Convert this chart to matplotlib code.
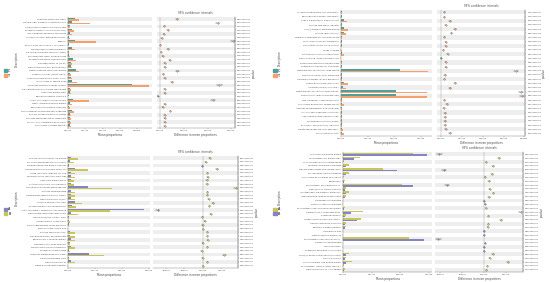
import numpy as np
import matplotlib.pyplot as plt
from matplotlib.patches import Patch
from matplotlib.ticker import FuncFormatter

# ---- panel A (top left) ----
a_labels = ["Glutamine synthetase, type I", "Multiple sugar transport, substrate-binding",
            "Cobalt/nickel transport system permease", "Phosphate transport ATP-binding protein",
            "ABC transporter permease, spermidine", "Cold shock protein, beta-ribbon domain",
            "Flagellin", "Excinuclease ABC subunit A, UvrA family", "Peptide/nickel transport permease",
            "DNA-binding response regulator, OmpR", "Two-component sensor histidine kinase",
            "Phosphate starvation-inducible PhoH", "Elongation factor Tu (EF-Tu)",
            "Ribosomal protein S12, bacterial type", "Methyl-accepting chemotaxis protein",
            "Chaperonin GroEL (HSP60 family)", "Outer membrane protein OmpA, porin",
            "ATP synthase F1 subunit alpha", "Polyketide synthase modules, related",
            "DNA-directed RNA polymerase subunit beta", "Heat shock protein HtpG",
            "Translation initiation factor IF-2", "Acetyl-CoA carboxylase transferase",
            "Signal recognition particle protein", "Transcription termination factor Rho",
            "Glyceraldehyde-3-phosphate dehydrogenase", "Enolase, phosphopyruvate hydratase",
            "Pyruvate dehydrogenase E1 component", "Succinyl-CoA synthetase alpha subunit",
            "Cytochrome c oxidase subunit I"]
a_grp1 = [0.40, 0.20, 0.08, 0.20, 0.10, 0.05, 0.40, 0.02, 0.20, 0.02, 0.05, 0.30, 0.15, 0.15, 0.45,
          0.10, 0.15, 0.25, 3.70, 0.08, 0.10, 0.02, 0.30, 0.10, 0.05, 0.20, 0.08, 0.10, 0.10, 0.10]
a_grp2 = [0.64, 1.26, 0.10, 0.34, 0.20, 0.08, 1.64, 0.03, 0.40, 0.03, 0.08, 0.45, 0.25, 0.20, 0.65,
          0.15, 0.20, 0.50, 4.70, 0.15, 0.15, 0.01, 1.20, 0.20, 0.10, 0.35, 0.15, 0.15, 0.15, 0.15]
a_diff = [0.69, 2.42, 0.17, 0.33, 0.14, 0.07, 3.08, 0.00, 0.33, 0.03, 0.10, 0.39, 0.18, 0.19, 0.72,
          0.13, 0.18, 0.49, 2.49, 0.19, 0.19, -0.11, 2.22, 0.19, 0.10, 0.43, 0.18, 0.19, 0.19, 0.19]
a_ci = [0.04, 0.08, 0.02, 0.03, 0.02, 0.02, 0.09, 0.01, 0.03, 0.01, 0.02, 0.03, 0.02, 0.02, 0.05,
        0.02, 0.02, 0.04, 0.10, 0.02, 0.02, 0.02, 0.08, 0.02, 0.02, 0.03, 0.02, 0.02, 0.02, 0.02]
a_p = [1.84e-03, 6.21e-04, 3.37e-02, 1.15e-02, 4.02e-02, 2.66e-02, 2.07e-04, 4.51e-02, 8.93e-03,
       3.90e-02, 2.48e-02, 7.16e-03, 1.92e-02, 2.35e-02, 9.87e-04, 3.11e-02, 1.74e-02, 5.62e-03,
       3.38e-04, 2.03e-02, 2.87e-02, 4.66e-02, 8.45e-04, 1.58e-02, 3.64e-02, 6.77e-03, 2.21e-02,
       2.59e-02, 1.36e-02, 2.93e-02]

# ---- panel B (top right) ----
b_labels = ["Uncharacterized protein, DUF1778 family", "Transcriptional regulator, LysR family",
            "Oligo-1,6-glucosidase, alpha-amylase", "Putative TetR-family regulator",
            "Iron(III) transport substrate-binding", "Putative lipoprotein YajI",
            "Membrane-associated zinc metalloprotease", "Lipid A biosynthesis acyltransferase",
            "Glycosyltransferase, group 1 family", "Phage integrase",
            "Putative holin-like toxin, hypothetical", "Small multidrug resistance protein SMR",
            "Sugar phosphate isomerase/epimerase", "Glutathione S-transferase, N-terminal",
            "Methylmalonyl-CoA mutase, large subunit", "RND efflux system, outer membrane",
            "Thioredoxin reductase, NADPH-dependent", "Glutamate synthase, large chain",
            "Aminotransferase class I and II", "Methylmalonyl-CoA mutase, small subunit",
            "Propionyl-CoA carboxylase beta chain", "MFS transporter, sugar porter family",
            "Cytochrome bd ubiquinol oxidase subunit", "Aldehyde dehydrogenase, NAD-dependent",
            "Acyl-CoA dehydrogenase, short-chain", "Alkyl hydroperoxide reductase AhpC",
            "Serine/threonine protein kinase", "Enoyl-[acyl-carrier-protein] reductase",
            "Malate dehydrogenase, NAD-dependent", "Pilus assembly protein"]
b_grp1 = [0.02, 0.02, 0.13, 0.02, 0.10, 0.10, 0.02, 0.03, 0.03, 0.01, 0.05, 0.01, 0.03, 0.03, 2.22,
          0.03, 0.02, 0.10, 0.08, 2.05, 2.05, 0.02, 0.05, 0.02, 0.03, 0.03, 0.03, 0.03, 0.03, 0.05]
b_grp2 = [0.03, 0.03, 0.23, 0.04, 0.28, 0.20, 0.03, 0.05, 0.05, 0.02, 0.10, 0.005, 0.05, 0.05, 3.27,
          0.05, 0.04, 0.28, 0.18, 3.23, 3.23, 0.03, 0.12, 0.03, 0.05, 0.05, 0.05, 0.05, 0.06, 0.12]
b_diff = [0.15, 0.15, 0.41, 0.20, 0.64, 0.48, 0.15, 0.20, 0.20, 0.10, 0.30, -0.02, 0.20, 0.20, 3.60,
          0.18, 0.15, 0.64, 0.42, 3.85, 3.89, 0.15, 0.27, 0.12, 0.18, 0.18, 0.18, 0.18, 0.21, 0.41]
b_ci = [0.03, 0.03, 0.04, 0.03, 0.05, 0.04, 0.03, 0.03, 0.03, 0.02, 0.03, 0.02, 0.03, 0.03, 0.10,
        0.03, 0.03, 0.05, 0.04, 0.10, 0.10, 0.03, 0.03, 0.03, 0.03, 0.03, 0.03, 0.03, 0.03, 0.04]
b_p = [3.12e-02, 2.76e-02, 6.48e-03, 1.93e-02, 2.14e-03, 4.85e-03, 3.47e-02, 1.66e-02, 1.71e-02,
       4.22e-02, 9.31e-03, 4.78e-02, 1.88e-02, 2.05e-02, 1.04e-04, 2.54e-02, 3.29e-02, 1.97e-03,
       5.73e-03, 7.62e-05, 6.95e-05, 2.98e-02, 1.27e-02, 3.81e-02, 2.43e-02, 2.37e-02, 2.62e-02,
       2.51e-02, 1.45e-02, 6.11e-03]

# ---- panel C (bottom left) ----
c_labels = ["Putative ABC transporter ATP-binding", "Succinate dehydrogenase Fe-S subunit",
            "Predicted membrane protein, DUF1097", "Carbohydrate-binding module, family 48",
            "Nitrite reductase, large subunit NirB", "Ferredoxin-NADP reductase, plant-type",
            "Heat shock protein Hsp20", "Cysteine desulfurase, SufS subfamily",
            "NAD-specific glutamate dehydrogenase", "Putative oxidoreductase",
            "Fructose-bisphosphate aldolase, class II", "Ribosomal protein L7/L12",
            "Universal stress protein UspA", "Phosphoenolpyruvate carboxykinase",
            "Acetyl-coenzyme A synthetase, AMP-forming", "Ribose-phosphate pyrophosphokinase",
            "Septum formation initiator, DivIC", "Histidine kinase, HAMP region",
            "Prolyl oligopeptidase, serine peptidase", "Biotin synthase, radical SAM",
            "Putative exported protein", "Zinc-binding alcohol dehydrogenase",
            "Transketolase, C-terminal domain", "Flavodoxin/nitric oxide synthase",
            "Peptidyl-prolyl cis-trans isomerase", "Phosphoglycerate mutase",
            "Glutamine amidotransferase, class I", "Catalase-peroxidase KatG",
            "Ribosomal protein S1", "Sigma-54 dependent regulator"]
c_grp1 = [0.10, 0.08, 0.03, 0.25, 0.12, 0.12, 0.10, 0.12, 0.75, 0.10, 0.10, 0.10, 0.25, 0.15, 2.84,
          0.10, 0.02, 0.02, 0.02, 0.01, 0.08, 0.08, 0.10, 0.05, 0.10, 0.03, 0.79, 0.02, 0.10, 0.01]
c_grp2 = [0.35, 0.20, 0.02, 0.75, 0.25, 0.25, 0.20, 0.20, 1.63, 0.25, 0.25, 0.25, 0.50, 0.30, 1.56,
          0.35, 0.03, 0.05, 0.03, 0.01, 0.25, 0.25, 0.25, 0.05, 0.25, 0.05, 1.34, 0.02, 0.25, 0.01]
c_diff = [0.36, 0.15, -0.04, 0.75, 0.24, 0.27, 0.22, 0.22, 1.76, 0.24, 0.24, 0.31, 0.53, 0.35, -2.45,
          0.42, -0.04, 0.09, -0.02, 0.00, 0.24, 0.24, 0.27, -0.02, 0.24, -0.07, 1.15, -0.02, 0.24, 0.00]
c_ci = [0.04, 0.03, 0.02, 0.06, 0.03, 0.03, 0.03, 0.03, 0.08, 0.03, 0.03, 0.03, 0.05, 0.04, 0.10,
        0.04, 0.02, 0.02, 0.02, 0.01, 0.03, 0.03, 0.03, 0.02, 0.03, 0.02, 0.07, 0.02, 0.03, 0.01]
c_p = [8.27e-03, 2.19e-02, 3.95e-02, 1.42e-03, 1.36e-02, 1.12e-02, 1.57e-02, 1.61e-02, 2.63e-04,
       1.39e-02, 1.41e-02, 9.86e-03, 3.27e-03, 7.74e-03, 4.58e-05, 5.36e-03, 4.12e-02, 2.71e-02,
       4.49e-02, 4.93e-02, 1.33e-02, 1.37e-02, 1.08e-02, 4.41e-02, 1.35e-02, 3.58e-02, 6.84e-04,
       4.47e-02, 1.38e-02, 4.96e-02]

# ---- panel D (bottom right) ----
d_labels = ["Chlorophyll a/b-binding protein", "Photosystem II D1 protein PsbA",
            "Thylakoid lumen protein, pentapeptide", "Ferredoxin-thioredoxin reductase",
            "Ribulose bisphosphate carboxylase, large", "Phycobilisome linker polypeptide",
            "Cytochrome b6-f complex Fe-S subunit", "Plastocyanin",
            "Photosystem I P700 apoprotein A1", "Magnesium chelatase subunit H",
            "ATP-dependent Clp protease, proteolytic", "Light-harvesting complex stress-related",
            "Geranylgeranyl reductase", "Protochlorophyllide reductase",
            "Photosystem II CP47 chlorophyll apoprotein", "Sedoheptulose-1,7-bisphosphatase",
            "Phosphoribulokinase", "Oxygen-evolving enhancer protein 1",
            "Carbonic anhydrase, beta class", "Fructose-1,6-bisphosphatase",
            "Thioredoxin M-type", "Plastid ribosomal protein L12",
            "Photosystem II CP43 reaction center", "Violaxanthin de-epoxidase",
            "PsbP-like protein", "Zeaxanthin epoxidase, chloroplastic",
            "NAD(P)H-quinone oxidoreductase subunit", "Glycolate oxidase",
            "Chloroplast stem-loop binding protein", "Photosystem I reaction center subunit II",
            "Ribosomal protein L1, chloroplastic"]
d_grp1 = [2.43, 0.60, 0.02, 0.20, 1.40, 0.20, 0.02, 0.08, 2.05, 0.10, 0.20, 0.10, 0.01, 0.01, 0.05,
          0.68, 0.10, 0.64, 0.10, 0.10, 0.01, 0.01, 2.29, 0.01, 0.01, 0.01, 0.20, 0.10, 0.30, 0.02, 0.05]
d_grp2 = [2.94, 0.38, 0.01, 0.10, 1.87, 0.10, 0.01, 0.04, 2.46, 0.05, 0.10, 0.05, 0.01, 0.01, 0.02,
          0.29, 0.05, 0.48, 0.05, 0.05, 0.01, 0.01, 2.82, 0.01, 0.01, 0.01, 0.10, 0.05, 0.10, 0.01, 0.02]
d_diff = [-2.03, 0.68, 0.10, 0.42, -1.80, 0.36, 0.05, 0.23, -1.70, 0.27, 0.44, 0.23, 0.00, 0.05, 0.10,
          1.68, 0.20, 0.77, 0.20, 0.17, 0.00, 0.00, -2.08, 0.05, 0.00, 0.00, 0.41, 0.27, 1.10, 0.15, 0.12]
d_ci = [0.10, 0.05, 0.02, 0.04, 0.09, 0.04, 0.02, 0.03, 0.09, 0.03, 0.04, 0.03, 0.01, 0.02, 0.02,
        0.08, 0.03, 0.05, 0.03, 0.03, 0.01, 0.01, 0.10, 0.02, 0.01, 0.01, 0.04, 0.03, 0.06, 0.02, 0.02]
d_p = [1.51e-04, 4.07e-03, 3.44e-02, 8.12e-03, 3.26e-04, 9.48e-03, 4.18e-02, 1.47e-02, 4.73e-04,
       1.21e-02, 7.58e-03, 1.49e-02, 4.98e-02, 4.06e-02, 3.52e-02, 1.24e-04, 1.84e-02, 3.06e-03,
       1.81e-02, 2.11e-02, 4.88e-02, 4.91e-02, 1.19e-04, 4.15e-02, 4.95e-02, 4.93e-02, 8.36e-03,
       1.44e-02, 7.31e-04, 2.27e-02, 2.74e-02]

orange, teal = "#F5A06F", "#4FA09C"
olive, purple = "#C9C55B", "#8485C2"

FS = 1.45
TXT = "#444444"
SPINE = "#777777"


def panel(fig, bar_rect, dot_rect, labels, g_top, g_bot, diff, ci, pvals, c_top, c_bot,
          names, bar_xlim, bar_ticks, dot_xlim, dot_ticks, leg_xy, ylab_x):
    n = len(labels)
    y = np.arange(n)[::-1]
    ax = fig.add_axes(bar_rect)
    ax2 = fig.add_axes(dot_rect)
    for a in (ax, ax2):
        for yy in y[::2]:
            a.axhspan(yy - 0.5, yy + 0.5, color="#eeeeee", lw=0, zorder=0)
        a.set_ylim(-0.6, n - 0.4)
        a.tick_params(labelsize=FS, length=1, width=0.3, pad=0.6, labelcolor=TXT, color=SPINE)
        for s in a.spines.values():
            s.set_linewidth(0.3)
            s.set_color(SPINE)
        a.spines["top"].set_visible(False)
    ax.spines["right"].set_visible(False)
    ax2.spines["left"].set_visible(False)
    ax.barh(y + 0.2, g_top, height=0.4, color=c_top, zorder=2)
    ax.barh(y - 0.2, g_bot, height=0.4, color=c_bot, zorder=2)
    ax.set_xlim(*bar_xlim)
    ax.set_xticks(bar_ticks)
    ax.xaxis.set_major_formatter(FuncFormatter(lambda v, p: "%.5f" % (v * 1e-3)))
    ax.set_yticks(y)
    ax.set_yticklabels(labels)
    ax.set_xlabel("Mean proportions", fontsize=2.0, labelpad=1, color=TXT)

    ax2.axvline(0, color="#999999", lw=0.3, zorder=1)
    for xi, yi, ci_, g1, g2 in zip(diff, y, ci, g_top, g_bot):
        col = c_bot if g2 >= g1 else c_top
        ax2.errorbar(xi, yi, xerr=ci_, fmt="o", ms=1.1, mew=0.2, mec="#555555",
                     color=col, ecolor="#555555", elinewidth=0.3, capsize=0.5, capthick=0.3, zorder=3)
    ax2.set_xlim(*dot_xlim)
    ax2.set_xticks(dot_ticks)
    ax2.xaxis.set_major_formatter(FuncFormatter(lambda v, p: "%.5f" % (v * 1e-3)))
    ax2.set_yticks([])
    ax2.set_xlabel("Difference in mean proportions", fontsize=2.0, labelpad=1, color=TXT)
    ax2.set_title("95% confidence intervals", fontsize=2.0, pad=2, color=TXT)

    ax3 = ax2.twinx()
    ax3.set_ylim(ax2.get_ylim())
    ax3.set_yticks(y)
    ax3.set_yticklabels(["%.6e" % p for p in pvals])
    ax3.tick_params(labelsize=FS, length=1, width=0.3, pad=0.6, labelcolor=TXT, color=SPINE)
    for s in ax3.spines.values():
        s.set_visible(False)
    ax3.spines["right"].set_visible(True)
    ax3.spines["right"].set_linewidth(0.3)
    ax3.spines["right"].set_color(SPINE)
    ax3.set_ylabel("p-value", fontsize=2.0, labelpad=0.5, color=TXT)

    fig.text(ylab_x, bar_rect[1] + bar_rect[3] * 0.62, "Description", rotation=90,
             fontsize=2.0, ha="center", va="center", color=TXT)
    handles = [Patch(color=c_top, label=names[0]), Patch(color=c_bot, label=names[1])]
    fig.legend(handles=handles, loc="center left", bbox_to_anchor=leg_xy, fontsize=2.4,
               frameon=False, handlelength=1.0, handleheight=1.0, handletextpad=0.3,
               borderpad=0, labelspacing=0.2)


fig = plt.figure(figsize=(5.5, 2.82), dpi=100)

panel(fig, [0.124, 0.546, 0.153, 0.394], [0.285, 0.546, 0.142, 0.394],
      a_labels, a_grp1, a_grp2, a_diff, a_ci, a_p, teal, orange, ["C", "T"],
      (0, 4.9), [0, 1, 2, 3, 4], (-0.15, 3.15), [0, 1, 2, 3], (0.004, 0.74), 0.03)

panel(fig, [0.620, 0.518, 0.165, 0.447], [0.795, 0.518, 0.160, 0.447],
      b_labels, b_grp1, b_grp2, b_diff, b_ci, b_p, teal, orange, ["C", "T"],
      (0, 3.4), [0, 1, 2, 3], (-0.2, 4.05), [0, 1, 2, 3, 4], (0.494, 0.74), 0.508)

panel(fig, [0.124, 0.050, 0.149, 0.397], [0.279, 0.050, 0.153, 0.397],
      c_labels, c_grp1, c_grp2, c_diff, c_ci, c_p, purple, olive, ["A", "B"],
      (0, 3.06), [0, 1, 2, 3], (-2.67, 1.87), [-2, -1, 0, 1], (0.004, 0.25), 0.03)

panel(fig, [0.624, 0.035, 0.162, 0.426], [0.791, 0.035, 0.160, 0.426],
      d_labels, d_grp1, d_grp2, d_diff, d_ci, d_p, olive, purple, ["A", "B"],
      (0, 3.12), [0, 1, 2, 3], (-2.23, 1.79), [-2, -1, 0, 1], (0.494, 0.25), 0.508)

fig.savefig("out.png", dpi=100)
